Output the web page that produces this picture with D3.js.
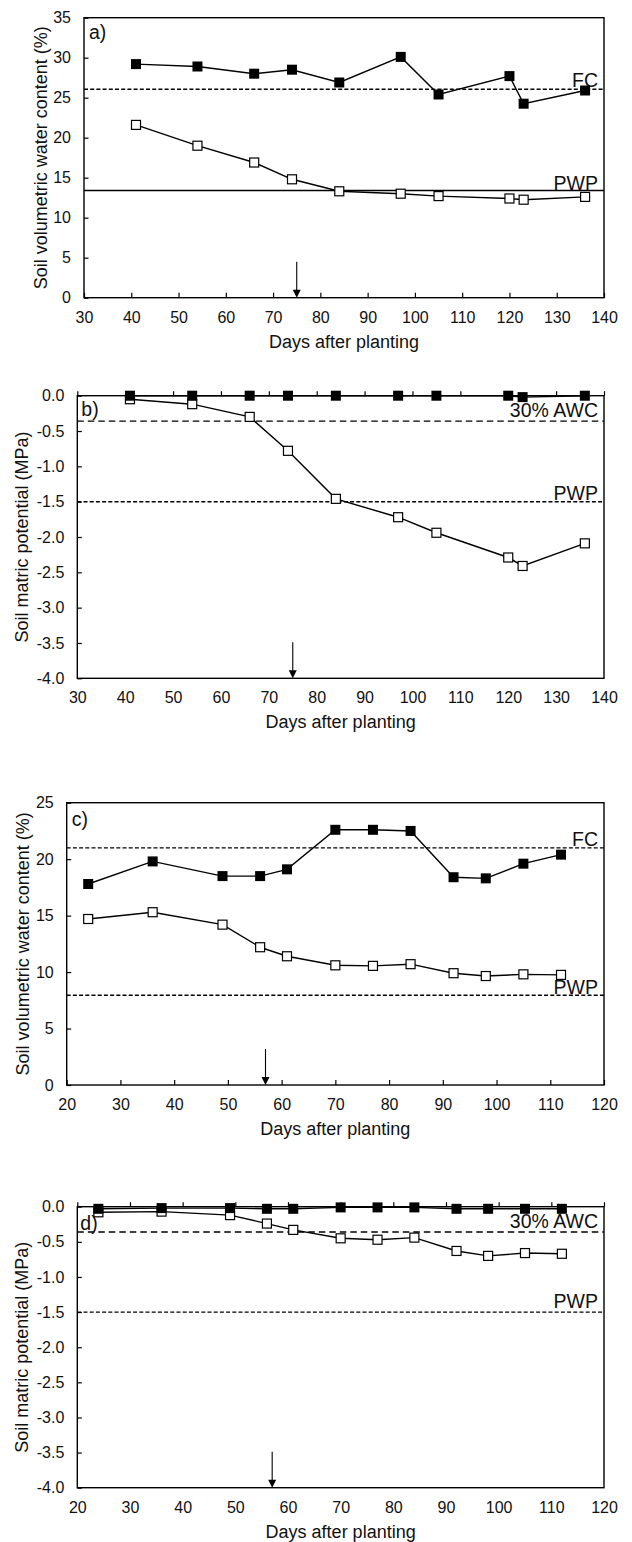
<!DOCTYPE html>
<html>
<head>
<meta charset="utf-8">
<script src="https://cdn.jsdelivr.net/npm/d3@7"></script>
<style>
  html, body { margin: 0; padding: 0; background: #fff; }
  svg { display: block; }
  text { font-family: "Liberation Sans", Arial, sans-serif; fill: #111; }
</style>
</head>
<body>
<svg id="fig" width="632" height="1542"></svg>
<script>
// ---- Site 1 (panels a, b) ----
const daysSite1 = [41, 54, 66, 74, 84, 97, 105, 120, 123, 136];
const swcIrrigated1 = [29.2, 28.9, 28.0, 28.5, 26.9, 30.1, 25.4, 27.7, 24.25, 25.9];
const swcStressed1  = [21.6, 19.0, 16.9, 14.8, 13.3, 13.0, 12.7, 12.4, 12.25, 12.6];
const psiIrrigated1 = [0, 0, 0, 0, 0, 0, 0, 0, -0.02, 0];
const psiStressed1  = [-0.05, -0.12, -0.30, -0.78, -1.46, -1.72, -1.94, -2.29, -2.41, -2.09];
const fc1 = 26.05, pwpSwc1 = 13.4;
const arrowDay1 = 75;

// ---- Site 2 (panels c, d) ----
const daysSite2 = [24, 36, 49, 56, 61, 70, 77, 84, 92, 98, 105, 112];
const swcIrrigated2 = [17.8, 19.8, 18.5, 18.5, 19.1, 22.6, 22.6, 22.5, 18.4, 18.3, 19.6, 20.4];
const swcStressed2  = [14.7, 15.3, 14.2, 12.2, 11.4, 10.6, 10.55, 10.7, 9.9, 9.65, 9.8, 9.75];
const psiIrrigated2 = [-0.03, -0.02, -0.02, -0.03, -0.03, -0.01, -0.01, -0.01, -0.03, -0.03, -0.03, -0.03];
const psiStressed2  = [-0.08, -0.07, -0.12, -0.24, -0.33, -0.45, -0.47, -0.44, -0.63, -0.70, -0.66, -0.67];
const fc2 = 21.0, pwpSwc2 = 7.95;
const arrowDay2 = 57;

// Potential thresholds shared by both sites
const awc30Psi = -0.36, pwpPsi = -1.5;

// Axis tick values
const xTicks1 = d3.range(30, 141, 10);
const xTicks2 = d3.range(20, 121, 10);
const swcTicks1 = d3.range(0, 36, 5);
const swcTicks2 = d3.range(0, 26, 5);
const psiTicks = d3.range(0, 9).map(i => -i * 0.5);

const xTitle = "Days after planting";
const swcTitle = "Soil volumetric water content (%)";
const psiTitle = "Soil matric potential (MPa)";

// line styles for threshold lines
const SOLID = null, SHORT_DASH = "4,2.2", LONG_DASH = "6.5,4";

const panels = [
  { tag: "a)", left: 84, right: 604, top: 17.7, bottom: 297.7, titleX: 41,
    xDomain: [30, 140], xTicks: xTicks1, yDomain: [0, 35], yTicks: swcTicks1, yFmt: d3.format("d"),
    potential: false, days: daysSite1, filled: swcIrrigated1, open: swcStressed1,
    refs: [{ v: fc1, label: "FC", dash: SHORT_DASH, dy: -2 }, { v: pwpSwc1, label: "PWP", dash: SOLID, dy: -1 }],
    arrow: arrowDay1, yTitle: swcTitle, tagDx: 5, tagDy: 21 },
  { tag: "b)", left: 77.3, right: 604, top: 395.7, bottom: 678.3, titleX: 22,
    xDomain: [30, 140], xTicks: xTicks1, yDomain: [-4, 0], yTicks: psiTicks, yFmt: d => d.toFixed(1),
    potential: true, days: daysSite1, filled: psiIrrigated1, open: psiStressed1,
    refs: [{ v: awc30Psi, label: "30% AWC", dash: LONG_DASH, dy: -4 }, { v: pwpPsi, label: "PWP", dash: SHORT_DASH, dy: -2 }],
    arrow: arrowDay1, yTitle: psiTitle, tagDx: 4, tagDy: 20 },
  { tag: "c)", left: 66.7, right: 604, top: 802.7, bottom: 1085, titleX: 22.5,
    xDomain: [20, 120], xTicks: xTicks2, yDomain: [0, 25], yTicks: swcTicks2, yFmt: d3.format("d"),
    potential: false, days: daysSite2, filled: swcIrrigated2, open: swcStressed2,
    refs: [{ v: fc2, label: "FC", dash: SHORT_DASH, dy: -2 }, { v: pwpSwc2, label: "PWP", dash: SHORT_DASH, dy: -1 }],
    arrow: arrowDay2, yTitle: swcTitle, tagDx: 5, tagDy: 23 },
  { tag: "d)", left: 77.3, right: 604, top: 1206.7, bottom: 1487.7, titleX: 22,
    xDomain: [20, 120], xTicks: xTicks2, yDomain: [-4, 0], yTicks: psiTicks, yFmt: d => d.toFixed(1),
    potential: true, days: daysSite2, filled: psiIrrigated2, open: psiStressed2,
    refs: [{ v: awc30Psi, label: "30% AWC", dash: LONG_DASH, dy: -4 }, { v: pwpPsi, label: "PWP", dash: SHORT_DASH, dy: -4 }],
    arrow: arrowDay2, yTitle: psiTitle, tagDx: 3, tagDy: 23 }
];

const svg = d3.select("#fig");
const TICK_FONT = 16, TITLE_FONT = 18, NOTE_FONT = 19.5, MARK = 10;

panels.forEach(p => {
  const x = d3.scaleLinear().domain(p.xDomain).range([p.left, p.right]);
  const y = d3.scaleLinear().domain(p.yDomain).range([p.bottom, p.top]);
  const g = svg.append("g");

  // Y axis: inward ticks, labels on the left
  const yAxis = g.append("g").attr("transform", `translate(${p.left},0)`)
    .call(d3.axisLeft(y).tickValues(p.yTicks).tickFormat(p.yFmt).tickSize(-4.5).tickPadding(13));
  yAxis.select(".domain").remove();
  yAxis.selectAll("line").attr("stroke", "#000").attr("stroke-width", 1.2);
  yAxis.selectAll("text").style("font-size", TICK_FONT + "px").attr("fill", "#111");

  // X axis ticks: inward from the bottom, or upward from the zero line
  if (p.potential) {
    const top = g.append("g").attr("transform", `translate(0,${y(0)})`)
      .call(d3.axisTop(x).tickValues(p.xTicks).tickFormat("").tickSize(4.5));
    top.select(".domain").remove();
    top.selectAll("line").attr("stroke", "#000").attr("stroke-width", 1.2);
    const lab = g.append("g").attr("transform", `translate(0,${p.bottom})`)
      .call(d3.axisBottom(x).tickValues(p.xTicks).tickSize(0).tickPadding(13.5));
    lab.select(".domain").remove();
    lab.selectAll("text").style("font-size", TICK_FONT + "px").attr("fill", "#111");
  } else {
    const bot = g.append("g").attr("transform", `translate(0,${p.bottom})`)
      .call(d3.axisBottom(x).tickValues(p.xTicks).tickSize(-5).tickPadding(13.5));
    bot.select(".domain").remove();
    bot.selectAll("line").attr("stroke", "#000").attr("stroke-width", 1.2);
    bot.selectAll("text").style("font-size", TICK_FONT + "px").attr("fill", "#111");
  }

  // Plot frame
  g.append("rect")
    .attr("x", p.left).attr("y", p.top)
    .attr("width", p.right - p.left).attr("height", p.bottom - p.top)
    .attr("fill", "none").attr("stroke", "#000").attr("stroke-width", 1.4);

  // Threshold lines and their labels
  p.refs.forEach(r => {
    g.append("line")
      .attr("x1", p.left).attr("x2", p.right)
      .attr("y1", y(r.v)).attr("y2", y(r.v))
      .attr("stroke", "#000").attr("stroke-width", 1.4)
      .attr("stroke-dasharray", r.dash);
    g.append("text")
      .attr("x", p.right - 6).attr("y", y(r.v) + r.dy)
      .attr("text-anchor", "end")
      .style("font-size", NOTE_FONT + "px")
      .text(r.label);
  });

  // Panel tag
  g.append("text")
    .attr("x", p.left + p.tagDx).attr("y", p.top + p.tagDy)
    .style("font-size", NOTE_FONT + "px")
    .text(p.tag);

  // Series lines
  const line = d3.line().x(d => x(d[0])).y(d => y(d[1]));
  const openPts = d3.zip(p.days, p.open);
  const filledPts = d3.zip(p.days, p.filled);
  g.append("path").datum(openPts).attr("d", line)
    .attr("fill", "none").attr("stroke", "#000").attr("stroke-width", 1.4);
  g.append("path").datum(filledPts).attr("d", line)
    .attr("fill", "none").attr("stroke", "#000").attr("stroke-width", 1.4);

  // Open squares, then filled squares on top
  g.selectAll(".open").data(openPts).join("rect")
    .attr("x", d => x(d[0]) - (MARK - 1) / 2).attr("y", d => y(d[1]) - (MARK - 1) / 2)
    .attr("width", MARK - 1).attr("height", MARK - 1)
    .attr("fill", "#fff").attr("stroke", "#000").attr("stroke-width", 1.2);
  g.selectAll(".filled").data(filledPts).join("rect")
    .attr("x", d => x(d[0]) - MARK / 2).attr("y", d => y(d[1]) - MARK / 2)
    .attr("width", MARK).attr("height", MARK)
    .attr("fill", "#000");

  // Arrow marking the onset of the water-stress treatment
  const ax = x(p.arrow);
  g.append("line")
    .attr("x1", ax).attr("x2", ax)
    .attr("y1", p.bottom - 36).attr("y2", p.bottom - 7)
    .attr("stroke", "#000").attr("stroke-width", 1.1);
  g.append("path")
    .attr("d", `M${ax - 4},${p.bottom - 8}L${ax + 4},${p.bottom - 8}L${ax},${p.bottom}Z`)
    .attr("fill", "#000");

  // Axis titles
  g.append("text")
    .attr("x", (p.left + p.right) / 2).attr("y", p.bottom + 44)
    .attr("text-anchor", "middle").attr("dominant-baseline", "central")
    .style("font-size", TITLE_FONT + "px")
    .text(xTitle);
  g.append("text")
    .attr("transform", `translate(${p.titleX},${(p.top + p.bottom) / 2}) rotate(-90)`)
    .attr("text-anchor", "middle").attr("dominant-baseline", "central")
    .style("font-size", TITLE_FONT + "px")
    .text(p.yTitle);
});
</script>
</body>
</html>
